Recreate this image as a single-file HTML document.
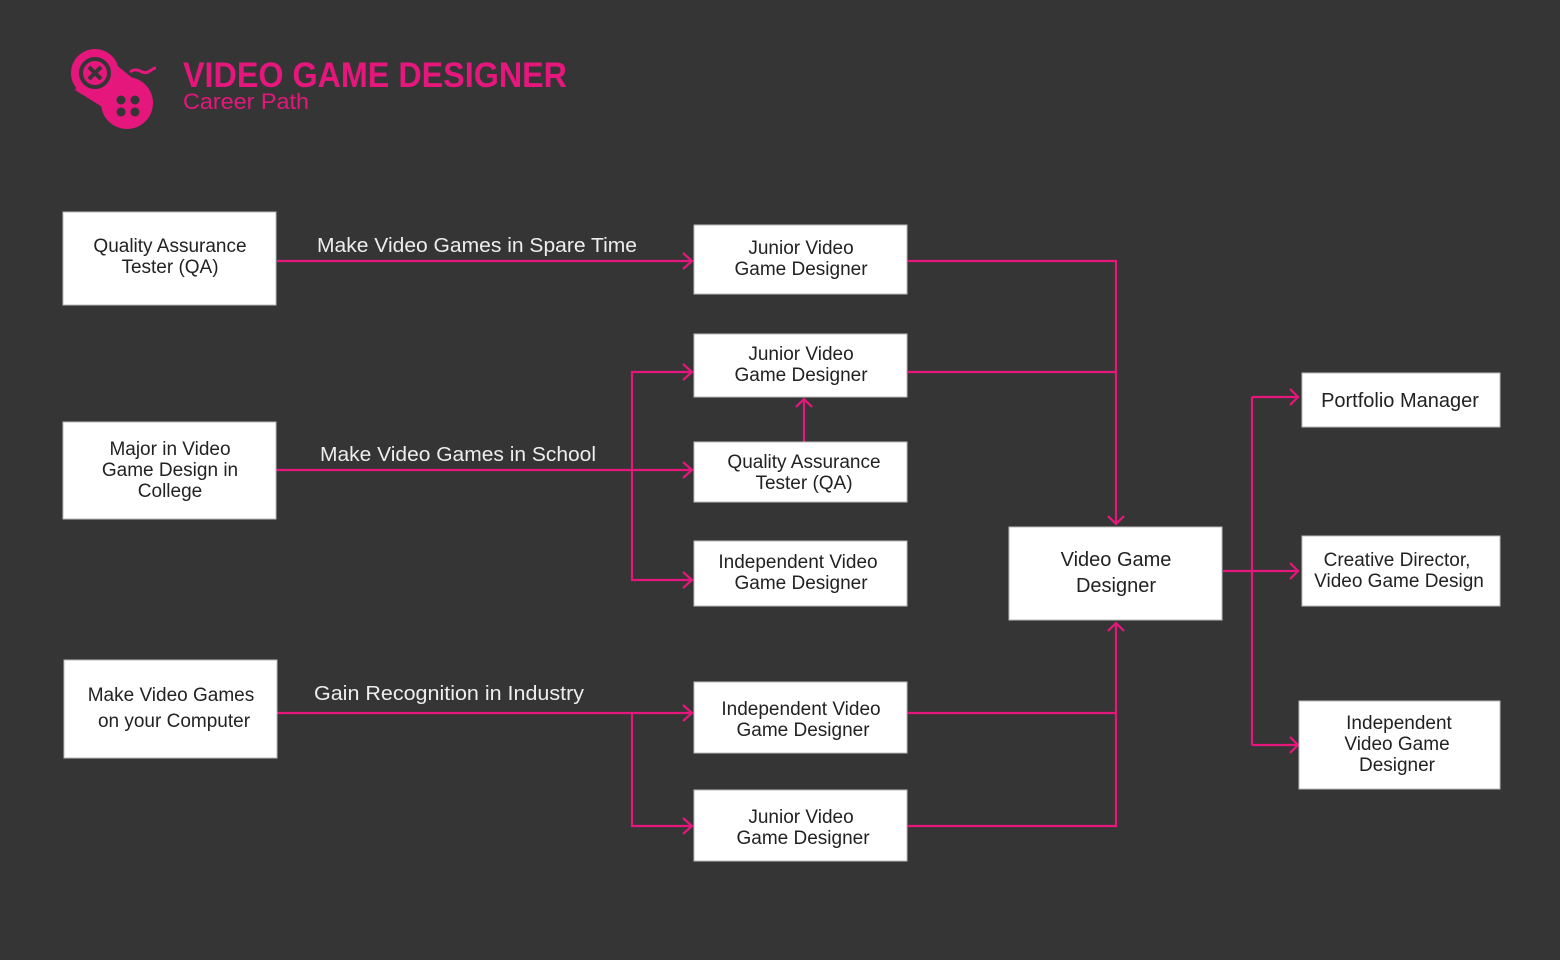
<!DOCTYPE html>
<html><head><meta charset="utf-8"><style>
html,body{margin:0;padding:0;background:#353535;}
svg{display:block;font-family:"Liberation Sans",sans-serif;}
.b{fill:#fff;stroke:#bbb;stroke-width:1}
.t{fill:#222;font-size:19px;text-anchor:middle;}
.l{fill:#eee;font-size:20px;}
.p{stroke:#e5177d;stroke-width:2.2;fill:none;}
</style></head><body>
<svg width="1560" height="960" viewBox="0 0 1560 960">
<rect width="1560" height="960" fill="#353535"/>
<g fill="#e5177d">
<circle cx="95" cy="73" r="24"/>
<circle cx="127" cy="103" r="26"/>
<path d="M100 52 L150 92 L120 118 L75 90 Z"/>
</g>
<circle cx="95" cy="73" r="14" fill="none" stroke="#353535" stroke-width="4"/>
<path d="M89 67 L101 79 M101 67 L89 79" stroke="#353535" stroke-width="4"/>
<g fill="#353535"><circle cx="121" cy="100" r="4.5"/><circle cx="135" cy="100" r="4.5"/><circle cx="121" cy="112" r="4.5"/><circle cx="135" cy="112" r="4.5"/></g>
<path d="M130 72 C138 66 142 75 148 72 C152 70 153 68 156 68" stroke="#e5177d" stroke-width="3" fill="none"/>
<text x="183" y="87" fill="#e5177d" font-size="35" font-weight="bold" textLength="384" lengthAdjust="spacingAndGlyphs">VIDEO GAME DESIGNER</text>
<text x="183" y="109" fill="#e5177d" font-size="22" textLength="126" lengthAdjust="spacingAndGlyphs">Career Path</text>

<g class="p">
<path d="M277 261 H692"/>
<path d="M908 261 H1116 V524"/>
<path d="M908 372 H1116"/>
<path d="M276 470 H692"/>
<path d="M632 470 V372 H692 M632 470 V580 H692"/>
<path d="M804 442 V399"/>
<path d="M277 713 H692"/>
<path d="M632 713 V826 H692"/>
<path d="M908 713 H1116 M908 826 H1116 V623"/>
<path d="M1223 571 H1298"/>
<path d="M1252 397 V745"/>
<path d="M1252 397 H1298 M1252 745 H1298"/>
<path d="M683 253 L692 261 L683 269"/>
<path d="M683 364 L692 372 L683 380"/>
<path d="M683 462 L692 470 L683 478"/>
<path d="M683 572 L692 580 L683 588"/>
<path d="M683 705 L692 713 L683 721"/>
<path d="M683 818 L692 826 L683 834"/>
<path d="M796 407 L804 399 L812 407"/>
<path d="M1108 516 L1116 524 L1124 516"/>
<path d="M1108 631 L1116 623 L1124 631"/>
<path d="M1290 389 L1298 397 L1290 405"/>
<path d="M1290 563 L1298 571 L1290 579"/>
<path d="M1290 737 L1298 745 L1290 753"/>
</g>

<text class="l" x="317" y="252" textLength="320" lengthAdjust="spacingAndGlyphs">Make Video Games in Spare Time</text>
<text class="l" x="320" y="461" textLength="276" lengthAdjust="spacingAndGlyphs">Make Video Games in School</text>
<text class="l" x="314" y="700" textLength="270" lengthAdjust="spacingAndGlyphs">Gain Recognition in Industry</text>

<rect class="b" x="63" y="212" width="213" height="93"/>
<text class="t" x="170" y="252">Quality Assurance</text><text class="t" x="170" y="273">Tester (QA)</text>
<rect class="b" x="63" y="422" width="213" height="97"/>
<text class="t" x="170" y="455">Major in Video</text><text class="t" x="170" y="476">Game Design in</text><text class="t" x="170" y="497">College</text>
<rect class="b" x="64" y="660" width="213" height="98"/>
<text class="t" x="171" y="701">Make Video Games</text><text class="t" x="174" y="727">on your Computer</text>

<rect class="b" x="694" y="225" width="213" height="69"/>
<text class="t" x="801" y="254">Junior Video</text><text class="t" x="801" y="275">Game Designer</text>
<rect class="b" x="694" y="334" width="213" height="63"/>
<text class="t" x="801" y="360">Junior Video</text><text class="t" x="801" y="381">Game Designer</text>
<rect class="b" x="694" y="442" width="213" height="60"/>
<text class="t" x="804" y="468">Quality Assurance</text><text class="t" x="804" y="489">Tester (QA)</text>
<rect class="b" x="694" y="541" width="213" height="65"/>
<text class="t" x="798" y="568">Independent Video</text><text class="t" x="801" y="589">Game Designer</text>
<rect class="b" x="694" y="682" width="213" height="71"/>
<text class="t" x="801" y="715">Independent Video</text><text class="t" x="803" y="736">Game Designer</text>
<rect class="b" x="694" y="790" width="213" height="71"/>
<text class="t" x="801" y="823">Junior Video</text><text class="t" x="803" y="844">Game Designer</text>

<rect class="b" x="1009" y="527" width="213" height="93"/>
<text class="t" x="1116" y="566" style="font-size:20px">Video Game</text><text class="t" x="1116" y="592" style="font-size:20px">Designer</text>

<rect class="b" x="1302" y="373" width="198" height="54"/>
<text class="t" x="1400" y="407" style="font-size:20px">Portfolio Manager</text>
<rect class="b" x="1302" y="536" width="198" height="70"/>
<text class="t" x="1397" y="566">Creative Director,</text><text class="t" x="1399" y="587">Video Game Design</text>
<rect class="b" x="1299" y="701" width="201" height="88"/>
<text class="t" x="1399" y="729">Independent</text><text class="t" x="1397" y="750">Video Game</text><text class="t" x="1397" y="771">Designer</text>
</svg>
</body></html>
